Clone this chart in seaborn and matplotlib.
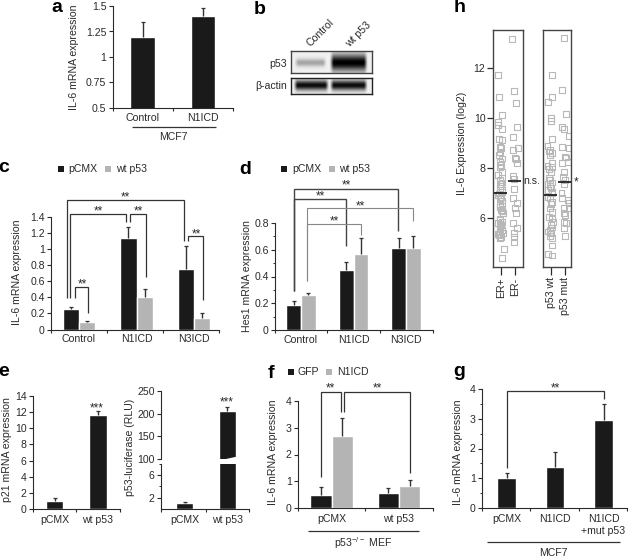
import numpy as np
import pandas as pd
import matplotlib
matplotlib.use('Agg')
import matplotlib.pyplot as plt
import seaborn as sns

# panel a
a_groups = ['Control', 'N1ICD']
a_values = [1.2, 1.4]
a_tops = [1.34, 1.485]

# panel c
c_groups = ['Control', 'N1ICD', 'N3ICD']
c_pcmx = [0.25, 1.14, 0.75]
c_wt = [0.09, 0.41, 0.14]
c_pcmx_tops = [0.28, 1.28, 1.04]
c_wt_tops = [0.11, 0.50, 0.20]

# panel d
d_groups = ['Control', 'N1ICD', 'N3ICD']
d_pcmx = [0.19, 0.45, 0.61]
d_wt = [0.26, 0.57, 0.61]
d_pcmx_tops = [0.22, 0.51, 0.69]
d_wt_tops = [0.28, 0.69, 0.70]

# panel e
e_groups = ['pCMX', 'wt p53']
e1_values = [1.0, 11.7]
e1_tops = [1.35, 12.1]
e2_values = [1.0, 206]
e2_tops = [1.25, 214]

# panel f
f_groups = ['pCMX', 'wt p53']
f_gfp = [0.5, 0.55]
f_n1 = [2.7, 0.82]
f_gfp_tops = [0.8, 0.75]
f_n1_tops = [3.38, 1.06]

# panel g
g_groups = ['pCMX', 'N1ICD', 'N1ICD\n+mut p53']
g_values = [1.0, 1.37, 2.97]
g_tops = [1.17, 1.88, 3.5]

# panel h, expression values and horizontal scatter offsets
er_pos = [11.72, 10.84, 10.12, 9.84, 9.72, 9.56, 9.16, 9.12, 8.84, 8.8, 8.64, 8.52, 8.38, 8.24, 8.12, 8.05,
          7.85, 7.72, 7.6, 7.52, 7.42, 7.35, 7.28, 7.19, 7.12, 7.05, 6.98, 6.92, 6.85, 6.79, 6.7, 6.61,
          6.52, 6.45, 6.38, 6.32, 6.26, 6.21, 5.98, 5.92, 5.85, 5.79, 5.72, 5.65, 5.58, 5.52, 5.46, 5.41,
          5.36, 5.32, 5.25, 5.19, 4.76, 4.4]
er_pos_x = [-.2, -.15, .1, -.2, -.2, .05, -.15, .05, -.1, 0, -.1, -.15, .1, -.05, 0, -.1,
            .05, -.2, .1, -.05, .1, 0, -.1, -.05, .1, .05, -.15, -.2, 0, -.1, .1, .05,
            -.05, -.1, .05, 0, .1, .15, -.05, -.1, .05, -.2, 0, -.05, -.1, .1, -.05, .15,
            -.2, -.15, 0, -.05, .2, .05]
er_neg = [13.16, 11.08, 10.6, 9.64, 9.24, 8.8, 8.72, 8.4, 8.36, 8.2, 7.68, 7.56, 7.16, 6.8, 6.6, 6.4, 6.2, 5.8, 5.6, 5.4, 5.24, 5.04]
er_neg_x = [-.2, -.05, .1, .15, -.15, .2, -.15, 0, .1, .15, -.15, -.05, -.05, -.15, .15, 0, .1, -.15, .15, -.05, -.05, -.1]
p53_wt = [11.72, 10.84, 10.64, 10.0, 9.88, 9.16, 8.88, 8.72, 8.66, 8.6, 8.5, 8.08, 8.2, 7.95, 8.05, 7.85,
          7.6, 7.52, 7.42, 7.35, 7.28, 7.19, 7.12, 7.05, 6.99, 6.85, 6.78, 6.65, 6.55, 6.38, 6.25, 6.05,
          5.98, 5.85, 5.72, 5.62, 5.52, 5.46, 5.38, 5.28, 5.19, 4.9, 4.55, 4.5]
p53_wt_x = [.05, .1, -.2, 0, 0, .05, -.25, -.05, -.15, .1, -.1, -.25, .1, -.15, .05, 0,
            -.15, -.1, .1, -.25, -.05, 0, -.2, .05, .1, -.25, -.1, .1, 0, -.1, .05, -.15,
            .05, .15, 0, .1, -.1, -.25, 0, -.1, .1, .05, -.2, .05]
p53_mut = [13.2, 11.12, 10.16, 9.64, 9.56, 9.28, 8.84, 8.8, 8.44, 8.42, 8.2, 8.24, 7.85, 7.65, 7.52, 7.36,
           6.99, 6.81, 6.72, 6.59, 6.39, 6.41, 6.21, 6.12, 5.85, 5.79, 5.61, 5.28]
p53_mut_x = [-.05, -.2, .1, -.2, -.05, .3, -.2, .25, 0, .1, -.2, .2, -.05, -.15, 0, -.1,
             -.25, -.2, .2, .3, .25, -.05, -.1, 0, -.1, .1, -.05, 0]
er_medians = [7.0, 7.48]
p53_medians = [6.92, 7.44]

BLACK = '#1a1a1a'
GRAY = '#b4b4b4'
INK = '#2a2a2a'
W, H = 628, 559
FS = 7.6

sns.set_style('white')
plt.rcParams['font.family'] = ['Liberation Sans', 'DejaVu Sans']
plt.rcParams['mathtext.default'] = 'regular'
plt.rcParams['text.color'] = INK
plt.rcParams['axes.edgecolor'] = INK
plt.rcParams['axes.linewidth'] = 0.8

fig = plt.figure(figsize=(W / 100, H / 100), dpi=100)


def px_axes(left, top, right, bottom):
    """Axes placed by picture pixels"""
    ax = fig.add_axes([left / W, 1 - bottom / H, (right - left) / W, (bottom - top) / H])
    ax.patch.set_alpha(0)
    return ax


def style_axes(ax, left, right, c0, step, tick_px, labels, ylim, yticks, ylabels, yminor=None, pad=3.5):
    """Limits and ticks, x positions given in pixels for category 0 and the spacing"""
    ax.set_xlim((left - c0) / step, (right - c0) / step)
    ax.set_ylim(*ylim)
    ax.set_xticks(range(len(labels)), labels)
    ax.set_xticks([(p - c0) / step for p in tick_px], minor=True)
    ax.set_yticks(yticks, ylabels)
    if yminor:
        ax.set_yticks(yminor, minor=True)
    ax.set_xlabel('')
    ax.set_ylabel('')
    ax.tick_params(axis='x', which='major', length=0, labelsize=FS, pad=pad, labelcolor=INK)
    ax.tick_params(axis='x', which='minor', bottom=True, length=2.5, width=0.8, color=INK)
    ax.tick_params(axis='y', which='major', left=True, length=3, width=0.8, color=INK, labelsize=FS, pad=1.5, labelcolor=INK)
    ax.tick_params(axis='y', which='minor', left=True, length=1.8, width=0.7, color=INK)
    sns.despine(ax=ax)


def add_errors(ax, tops):
    """Upper error bars only, cap at the top end"""
    for container, series_tops in zip(ax.containers, tops):
        for bar, top in zip(container, series_tops):
            x = bar.get_x() + bar.get_width() / 2
            ax.vlines(x, bar.get_height(), top, color='#333333', lw=1)
            ax.plot([x], [top], marker='_', ms=3.2, mew=0.9, color='#333333')


def single_bars(ax, groups, values, width):
    sns.barplot(x=groups, y=values, color=BLACK, saturation=1, width=width, errorbar=None, ax=ax)


def paired_bars(ax, groups, first, second, names, width):
    df = pd.DataFrame({
        'group': list(groups) * 2,
        'value': list(first) + list(second),
        'series': [names[0]] * len(groups) + [names[1]] * len(groups),
    })
    sns.barplot(data=df, x='group', y='value', hue='series', palette=[BLACK, GRAY], saturation=1,
                width=width, gap=0, errorbar=None, legend=False, ax=ax)


# a
ax = px_axes(112.7, 6, 233, 108)
single_bars(ax, a_groups, a_values, 0.4)
add_errors(ax, [a_tops])
style_axes(ax, 112.7, 233, 142.5, 60.5, [112.7, 173, 233], a_groups, (0.5, 1.5),
           [0.5, 0.75, 1, 1.25, 1.5], ['0.5', '0.75', '1', '1.25', '1.5'])

# c
ax = px_axes(51, 217, 219, 329.5)
paired_bars(ax, c_groups, c_pcmx, c_wt, ['pCMX', 'wt p53'], 0.567)
add_errors(ax, [c_pcmx_tops, c_wt_tops])
style_axes(ax, 51, 219, 79, 57.5, [51, 107, 163, 219], c_groups, (0, 1.4),
           [0, 0.2, 0.4, 0.6, 0.8, 1, 1.2, 1.4], ['0', '0.2', '0.4', '0.6', '0.8', '1', '1.2', '1.4'])

# d
ax = px_axes(275, 223, 432.5, 330)
paired_bars(ax, d_groups, d_pcmx, d_wt, ['pCMX', 'wt p53'], 0.571)
add_errors(ax, [d_pcmx_tops, d_wt_tops])
style_axes(ax, 275, 432.5, 301, 52.5, [275, 327, 380, 432.5], d_groups, (0, 0.8),
           [0, 0.2, 0.4, 0.6, 0.8], ['0', '0.2', '0.4', '0.6', '0.8'], yminor=[0.1, 0.3, 0.5, 0.7])

# e left
ax = px_axes(33, 396, 120, 509)
single_bars(ax, e_groups, e1_values, 0.4)
add_errors(ax, [e1_tops])
style_axes(ax, 33, 120, 54.5, 43.5, [33, 76, 120], e_groups, (0, 14),
           list(range(0, 15, 2)), [str(v) for v in range(0, 15, 2)], pad=4)

# e right, broken axis
ax = px_axes(161, 391, 249, 459)
single_bars(ax, e_groups, e2_values, 0.4)
add_errors(ax, [e2_tops])
style_axes(ax, 161, 249, 184.5, 43, [], ['', ''], (100, 250), [100, 150, 200, 250], ['100', '150', '200', '250'])
ax.spines['bottom'].set_visible(False)
ax.tick_params(axis='x', which='both', bottom=False, labelbottom=False)

ax = px_axes(161, 463.6, 249, 509)
single_bars(ax, e_groups, e2_values, 0.4)
add_errors(ax, [[e2_tops[0], e2_values[1]]])
style_axes(ax, 161, 249, 184.5, 43, [161, 206, 249], e_groups, (0, 8), [2, 6], ['2', '6'], yminor=[4, 8], pad=4)

# f
ax = px_axes(298, 401, 432.7, 508)
paired_bars(ax, f_groups, f_gfp, f_n1, ['GFP', 'N1ICD'], 0.637)
add_errors(ax, [f_gfp_tops, f_n1_tops])
style_axes(ax, 298, 432.7, 331.5, 67.5, [298, 365, 432.7], f_groups, (0, 4),
           [0, 1, 2, 3, 4], ['0', '1', '2', '3', '4'], pad=4.5)

# g
ax = px_axes(482, 389, 627, 508)
single_bars(ax, g_groups, g_values, 0.39)
add_errors(ax, [g_tops])
style_axes(ax, 482, 627, 506.5, 48.5, [482, 530, 579, 627], g_groups, (0, 4),
           [0, 1, 2, 3, 4], ['0', '1', '2', '3', '4'], yminor=[0.5, 1.5, 2.5, 3.5], pad=4.5)


# h
def strip_box(ax, pos, neg, pos_x, neg_x, medians, labels, xlim):
    for i, (vals, offs) in enumerate([(pos, pos_x), (neg, neg_x)]):
        sns.scatterplot(x=[i + o for o in offs], y=vals, marker='s', s=18, facecolors='none',
                        edgecolors='#b8b8b8', linewidth=0.8, ax=ax, legend=False)
        ax.hlines(medians[i], i - 0.5, i + 0.42, color='#111111', lw=1.2, zorder=5)
    ax.set_xlim(*xlim)
    ax.set_ylim(4.04, 13.52)
    ax.set_xticks([0, 1], labels, rotation=90)
    ax.tick_params(axis='x', bottom=True, length=6, width=0.9, color=INK, labelsize=FS, pad=1.5, labelcolor=INK)
    for spine in ax.spines.values():
        spine.set_linewidth(1.0)
        spine.set_color('#444444')


ax = px_axes(493, 30, 523, 267)
strip_box(ax, er_pos, er_neg, er_pos_x, er_neg_x, er_medians, ['ER+', 'ER-'], (-0.57, 1.57))
ax.set_yticks([6, 8, 10, 12], ['6', '8', '10', '12'])
ax.tick_params(axis='y', left=True, length=4, width=0.9, color=INK, labelsize=FS, pad=1.5, labelcolor=INK)

ax = px_axes(543, 30, 571, 267)
strip_box(ax, p53_wt, p53_mut, p53_wt_x, p53_mut_x, p53_medians, ['p53 wt', 'p53 mut'], (-0.57, 1.43))
ax.set_yticks([])


# b, the blot as an image
def blot(shape, bands):
    """bands: (x0, x1, y centre, half height, darkness) in fractions of the panel"""
    h, w = shape
    yy, xx = np.mgrid[0:1:h * 1j, 0:1:w * 1j]
    img = np.full(shape, 0.94)
    for x0, x1, yc, hh, dark in bands:
        edge_x = np.clip((xx - x0) * 22, 0, 1) * np.clip((x1 - xx) * 22, 0, 1)
        prof = np.exp(-((yy - yc) / hh) ** 2)
        img -= dark * edge_x * prof
    return np.clip(img, 0, 1)


ax = px_axes(291, 51, 372, 73)
ax.imshow(blot((44, 160), [(0.04, 0.44, 0.55, 0.17, 0.3), (0.48, 0.95, 0.55, 0.36, 0.95)]),
          cmap='gray', vmin=0, vmax=1, aspect='auto', interpolation='bilinear')
ax.set_xticks([])
ax.set_yticks([])
for spine in ax.spines.values():
    spine.set_linewidth(1.0)
    spine.set_color('#444444')

ax = px_axes(291, 78, 372, 94)
ax.imshow(blot((32, 160), [(0.03, 0.47, 0.45, 0.32, 0.9), (0.48, 0.95, 0.45, 0.32, 0.9)]),
          cmap='gray', vmin=0, vmax=1, aspect='auto', interpolation='bilinear')
ax.set_xticks([])
ax.set_yticks([])
for spine in ax.spines.values():
    spine.set_linewidth(1.0)
    spine.set_color('#222222')

# overlay in picture pixels for brackets, legends and labels
ov = fig.add_axes([0, 0, 1, 1], zorder=10)
ov.set_xlim(0, W)
ov.set_ylim(H, 0)
ov.axis('off')


def line(xs, ys, color='#333333', lw=0.9):
    ov.plot(xs, ys, color=color, lw=lw, solid_joinstyle='miter', solid_capstyle='butt')


def txt(x, y, s, size=FS, ha='center', va='center', **kw):
    ov.text(x, y, s, fontsize=size, ha=ha, va=va, **kw)


def stars(x, y, s='**'):
    txt(x, y + 2, s, size=8.5)


def legend(y, sq1, tx1, name1, sq2, tx2, name2):
    ov.scatter([sq1], [y], marker='s', s=24, color=BLACK, lw=0)
    ov.scatter([sq2], [y], marker='s', s=24, color=GRAY, lw=0)
    txt(tx1, y, name1, ha='left')
    txt(tx2, y, name2, ha='left')


for x, y, s in [(57, 8, 'a'), (260, 9, 'b'), (4, 168, 'c'), (245, 170, 'd'), (4, 372, 'e'),
                (271, 373, 'f'), (459, 371, 'g'), (460, 8, 'h')]:
    txt(x, y, s, size=14, fontweight='bold', color='black')

txt(74, 57, 'IL-6 mRNA expression', rotation=90)
txt(17, 272, 'IL-6 mRNA expression', rotation=90)
txt(247, 276, 'Hes1 mRNA expression', rotation=90)
txt(7, 450, 'p21 mRNA expression', rotation=90)
txt(130, 447, 'p53-luciferase (RLU)', rotation=90)
txt(273, 452, 'IL-6 mRNA expression', rotation=90)
txt(458, 452, 'IL-6 mRNA expression', rotation=90)
txt(462, 143, 'IL-6 Expression (log2)', rotation=90)

# a
line([131.7, 216], [127, 127])
txt(173, 137.5, 'MCF7')

# b
txt(287, 64, 'p53', ha='right')
txt(287, 86, 'β-actin', ha='right')
txt(320, 33, 'Control', rotation=45)
txt(358, 35, 'wt p53', rotation=45)

# c
legend(169, 61, 68, 'pCMX', 108, 116, 'wt p53')
line([67, 67, 184, 184], [298, 200, 200, 241])
line([70, 70, 126, 126], [298, 214, 214, 222])
line([130, 130, 146, 146], [222, 214, 214, 277])
line([188, 188, 203, 203], [241, 236, 236, 300])
line([75, 75, 88, 88], [298, 287, 287, 313])
for x, y in [(125, 195), (98, 209), (138, 209), (196, 232), (82, 282)]:
    stars(x, y)

# d
legend(169, 284, 292, 'pCMX', 332, 339, 'wt p53')
line([294, 294, 398, 398], [291, 189, 189, 231], color='#444444', lw=1.0)
line([294, 294, 346, 346], [291, 199, 199, 246], color='#444444', lw=1.0)
line([307, 307, 413, 413], [281, 208, 208, 221], color='#888888', lw=0.8)
line([307, 307, 361, 361], [281, 224, 224, 235], color='#888888', lw=0.8)
for x, y in [(346, 183), (320, 194), (360, 204), (334, 219)]:
    stars(x, y)

# e
stars(97, 406, '***')
stars(227, 400, '***')
ov.plot([216, 239], [463, 458], color='white', lw=2.6, solid_capstyle='butt')

# f
legend(372, 291, 297, 'GFP', 329, 337, 'N1ICD')
line([321, 321, 341, 341], [477, 392, 392, 412])
line([344, 344, 410, 410], [412, 392, 392, 473])
stars(330, 386)
stars(377, 386)
line([308, 419], [531, 531])
txt(363, 543, 'p53$^{-/-}$ MEF')

# g
line([507, 507, 604, 604], [468, 391, 391, 399])
stars(555, 386)
line([487, 620], [542, 542])
txt(553, 553, 'MCF7')

# h
txt(532, 181, 'n.s.')
txt(576, 182, '*', size=8.5)

plt.savefig('out.png', dpi=100)
plt.close()
